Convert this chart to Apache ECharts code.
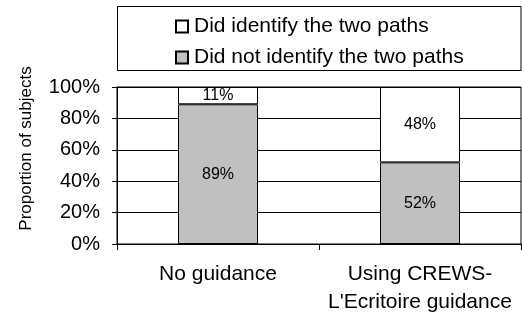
<!DOCTYPE html>
<html lang="en">
<head>
    <meta charset="UTF-8">
    <title>Proportion of subjects</title>
    <script type="text/javascript" src="https://cdn.jsdelivr.net/npm/echarts@6/dist/echarts.min.js"></script>
    <style>
        html, body { margin: 0; padding: 0; background: #fff; }
    </style>
</head>
<body>
<div id="main" style="width: 522px;height:318px;"></div>
<script type="text/javascript">
    // 数据
    var categories = ['No guidance', "Using CREWS-\nL'Ecritoire guidance"];
    var notIdentified = [89, 52];
    var identified = [11, 48];
    var yTicks = [0, 20, 40, 60, 80, 100];

    var myChart = echarts.init(document.getElementById('main'));
    var font = 'Liberation Sans, Arial, sans-serif';

    var option = {
        animation: false,
        textStyle: {fontFamily: font},
        grid: {
            left: 117, right: 1, top: 87, bottom: 74,
            show: true, borderColor: '#000', borderWidth: 1
        },
        // 图例外框
        graphic: [{
            type: 'rect',
            shape: {x: 117.5, y: 6.5, width: 403.5, height: 64},
            style: {fill: '#fff', stroke: '#000', lineWidth: 1},
            z: -1
        }],
        legend: {
            orient: 'vertical',
            left: 170, top: 11,
            icon: 'rect',
            itemWidth: 12, itemHeight: 12, itemGap: 10,
            data: ['Did identify the two paths', 'Did not identify the two paths'],
            textStyle: {fontSize: 21, color: '#000', fontFamily: font, padding: [0, 0, 0, 1]}
        },
        xAxis: {
            type: 'category',
            data: categories,
            axisLine: {lineStyle: {color: '#000'}},
            axisTick: {show: true, length: 6, lineStyle: {color: '#000'}},
            axisLabel: {interval: 0, fontSize: 21, color: '#000', margin: 16, lineHeight: 28, fontFamily: font}
        },
        yAxis: {
            type: 'value',
            min: yTicks[0], max: yTicks[yTicks.length - 1], interval: 20,
            name: 'Proportion of subjects',
            nameLocation: 'middle',
            nameGap: 82,
            nameTextStyle: {fontSize: 17, color: '#000', fontFamily: font, padding: [0, 0, 0, 34]},
            axisLine: {show: true, lineStyle: {color: '#000'}},
            axisTick: {show: true, length: 5, lineStyle: {color: '#000'}},
            axisLabel: {fontSize: 20, color: '#000', margin: 17, formatter: '{value}%', fontFamily: font},
            splitLine: {lineStyle: {color: '#000', width: 1}}
        },
        series: [{
            name: 'Did not identify the two paths',
            type: 'bar',
            stack: 'all',
            barWidth: 80,
            data: notIdentified,
            itemStyle: {color: '#c0c0c0', borderColor: '#000', borderWidth: 1},
            label: {show: true, position: 'inside', formatter: '{c}%', fontSize: 16, color: '#000', fontFamily: font}
        }, {
            name: 'Did identify the two paths',
            type: 'bar',
            stack: 'all',
            barWidth: 80,
            data: identified,
            itemStyle: {color: '#fff', borderColor: '#000', borderWidth: 1},
            label: {show: true, position: 'inside', formatter: '{c}%', fontSize: 16, color: '#000', fontFamily: font}
        }]
    };
    myChart.setOption(option);
</script>
</body>
</html>
